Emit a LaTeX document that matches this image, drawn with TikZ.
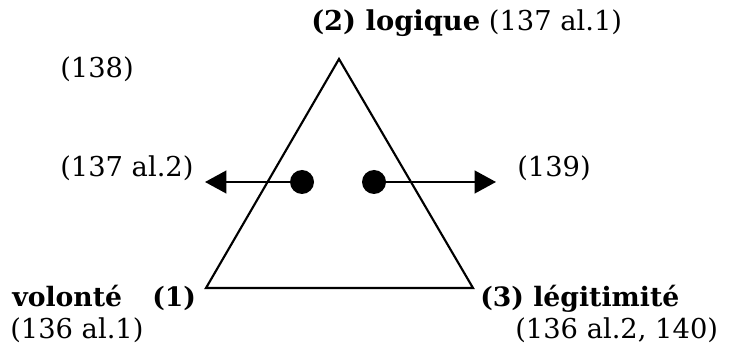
\documentclass[tikz,border=0pt]{standalone}
\usepackage{fontspec}
\setmainfont{DejaVu Serif}
\usetikzlibrary{arrows.meta}

\begin{document}
\begin{tikzpicture}[
  x=0.75pt,y=-0.75pt,
  font=\fontsize{20.5}{24}\selectfont,
  lbl/.style={inner sep=0pt,anchor=base west},
  boldlbl/.style={lbl,font=\fontsize{20}{24}\selectfont\bfseries},
  tri/.style={draw,line width=1.6pt,line join=miter},
  dot/.style={circle,fill,inner sep=0pt,minimum size=18pt},
  arr/.style={line width=1.6pt,-{Triangle[length=16pt,width=17pt]}}
]
\useasboundingbox (0,0) rectangle (731,352);
% corners of the triangle
\coordinate (apex) at (339,59);
\coordinate (bl) at (206,288);
\coordinate (br) at (473,288);
\draw[tri] (apex) -- (bl) -- (br) -- cycle;
% the two points and where they go
\node[dot] (pl) at (302,182) {};
\node[dot] (pr) at (374,182) {};
\coordinate (el) at (205,182);
\coordinate (er) at (496,182);
\draw[arr] (pl) -- (el);
\draw[arr] (pr) -- (er);
% labels
\node[lbl] (logique) at (311,31) {\textbf{(2) logique} (137 al.1)};
\node[lbl] (n138) at (60,78) {(138)};
\node[lbl] (n137) at (60,177) {(137 al.2)};
\node[lbl] (n139) at (517,177) {(139)};
\node[boldlbl] (volonte) at (12,306) {volonté};
\node[boldlbl] (un) at (152,306) {(1)};
\node[lbl] (n136a) at (10,339) {(136 al.1)};
\node[boldlbl] (legit) at (480,306) {(3) légitimité};
\node[lbl] (n136b) at (515,339) {(136 al.2, 140)};
\end{tikzpicture}
\end{document}
